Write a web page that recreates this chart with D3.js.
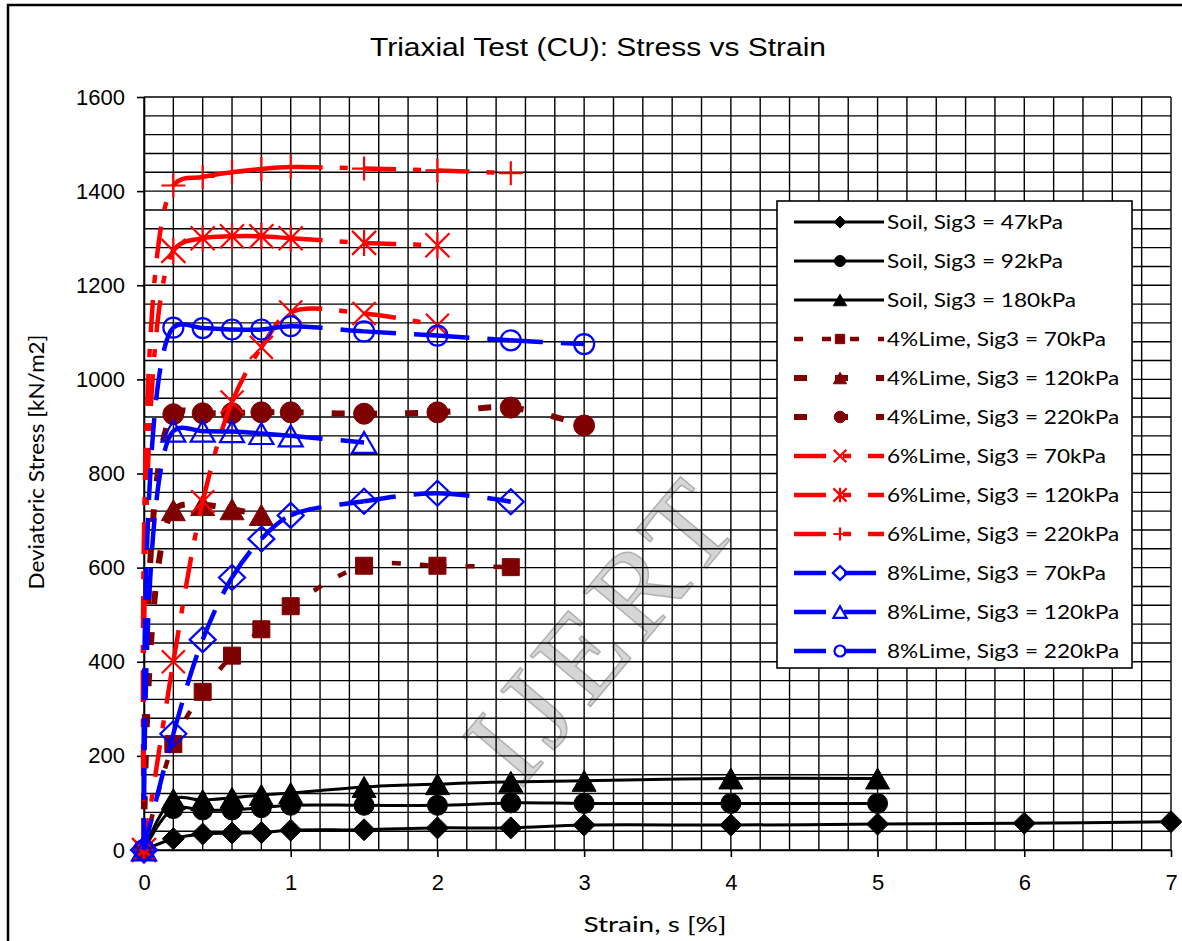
<!DOCTYPE html>
<html>
<head>
<meta charset="utf-8">
<script src="https://cdn.jsdelivr.net/npm/d3@7"></script>
<style>
  html, body { margin: 0; padding: 0; background: #fff; }
  svg { display: block; }
</style>
</head>
<body>
<div id="chart"></div>
<script>
// strain steps (%) shared by all the series, a series just stops early
const strain = [0, 0.2, 0.4, 0.6, 0.8, 1.0, 1.5, 2.0, 2.5, 3.0, 4.0, 5.0, 6.0, 7.0];

// deviatoric stress [kN/m2]
const soil47   = [0, 24, 34, 36, 37, 42, 43, 47, 47, 53, 53, 55, 57, 60];
const soil92   = [0, 88, 85, 85, 90, 95, 95, 95, 100, 99, 99, 99];
const soil180  = [0, 108, 106, 111, 117, 121, 134, 140, 145, 147, 152, 152];
const lime4_70  = [0, 225, 336, 413, 469, 518, 604, 604, 601];
const lime4_120 = [0, 722, 733, 724, 712];
const lime4_220 = [0, 926, 928, 928, 930, 930, 927, 930, 940, 902];
const lime6_70  = [0, 400, 740, 952, 1068, 1143, 1140, 1115];
const lime6_120 = [0, 1273, 1300, 1304, 1304, 1300, 1290, 1285];
const lime6_220 = [0, 1412, 1430, 1440, 1447, 1451, 1448, 1444, 1438];
const lime8_70  = [0, 247, 447, 579, 661, 711, 741, 758, 740];
const lime8_120 = [0, 890, 890, 889, 885, 880, 866];
const lime8_220 = [0, 1110, 1109, 1106, 1106, 1113, 1102, 1093, 1083, 1075];

const seriesNames = [
  "Soil, Sig3 = 47kPa", "Soil, Sig3 = 92kPa", "Soil, Sig3 = 180kPa",
  "4%Lime, Sig3 = 70kPa", "4%Lime, Sig3 = 120kPa", "4%Lime, Sig3 = 220kPa",
  "6%Lime, Sig3 = 70kPa", "6%Lime, Sig3 = 120kPa", "6%Lime, Sig3 = 220kPa",
  "8%Lime, Sig3 = 70kPa", "8%Lime, Sig3 = 120kPa", "8%Lime, Sig3 = 220kPa"
];
const xTicks = [0, 1, 2, 3, 4, 5, 6, 7];
const yTicks = [0, 200, 400, 600, 800, 1000, 1200, 1400, 1600];

// styles, same order as the names
const DARK = "#7f0000", RED = "#ff0000", BLUE = "#0000ff";
const styles = [
  { vals: soil47,    color: "#000", w: 3,   dash: null,          mk: "diamond",  mw: 22, mh: 22, fill: true },
  { vals: soil92,    color: "#000", w: 3,   dash: null,          mk: "circle",   mw: 20, mh: 20, fill: true },
  { vals: soil180,   color: "#000", w: 3,   dash: null,          mk: "triangle", mw: 24, mh: 21, fill: true },
  { vals: lime4_70,  color: DARK,   w: 4.5, dash: "9,19",        mk: "square",   mw: 17, mh: 17, fill: true },
  { vals: lime4_120, color: DARK,   w: 6,   dash: "13,28",       mk: "triangle", mw: 24, mh: 21, fill: true },
  { vals: lime4_220, color: DARK,   w: 6,   dash: "13,28",       mk: "circle",   mw: 21, mh: 21, fill: true },
  { vals: lime6_70,  color: RED,    w: 4.5, dash: "32,17,8,17",  mk: "x",        mw: 23, mh: 23, fill: false },
  { vals: lime6_120, color: RED,    w: 4.5, dash: "32,17,8,17",  mk: "star",     mw: 24, mh: 24, fill: false },
  { vals: lime6_220, color: RED,    w: 4.5, dash: "32,17,8,17",  mk: "plus",     mw: 24, mh: 24, fill: false },
  { vals: lime8_70,  color: BLUE,   w: 4.5, dash: "32,18",       mk: "diamond",  mw: 26, mh: 25, fill: false },
  { vals: lime8_120, color: BLUE,   w: 4.5, dash: "32,18",       mk: "triangle", mw: 24, mh: 21, fill: false },
  { vals: lime8_220, color: BLUE,   w: 4.5, dash: "32,18",       mk: "circle",   mw: 20, mh: 20, fill: false }
];

const W = 1182, H = 941;
const svg = d3.select("#chart").append("svg")
  .attr("width", W).attr("height", H);

svg.append("rect").attr("width", W).attr("height", H).attr("fill", "#fff");
// chart border
svg.append("rect").attr("x", 8).attr("y", 5).attr("width", 1400).attr("height", 1200)
  .attr("fill", "none").attr("stroke", "#000").attr("stroke-width", 2.5);

const x = d3.scaleLinear().domain([0, 7]).range([144, 1171]);
const y = d3.scaleLinear().domain([0, 1600]).range([850, 97]);

// watermark, under the grid
svg.append("text")
  .attr("transform", "translate(600,632) rotate(-50)")
  .attr("text-anchor", "middle").attr("dominant-baseline", "central")
  .attr("font-family", "Liberation Serif, serif").attr("font-size", 120)
  .attr("textLength", 345).attr("lengthAdjust", "spacing")
  .attr("fill", "#d6d6d6").attr("stroke", "#b0b0b0").attr("stroke-width", 1.5)
  .text("IJERT");

// grid: every 0.2 % and every 40 kN/m2
const grid = svg.append("g").attr("stroke", "#000").attr("stroke-width", 1.4);
grid.selectAll("line.v").data(d3.range(0, 35.5).map(i => i * 0.2)).join("line")
  .attr("class", "v")
  .attr("x1", d => x(d)).attr("x2", d => x(d))
  .attr("y1", y(0)).attr("y2", y(1600));
grid.selectAll("line.h").data(d3.range(0, 40.5).map(i => i * 40)).join("line")
  .attr("class", "h")
  .attr("x1", x(0)).attr("x2", x(7))
  .attr("y1", d => y(d)).attr("y2", d => y(d));

// axes
const yAxis = svg.append("g").attr("transform", `translate(${x(0)},0)`)
  .call(d3.axisLeft(y).tickValues(yTicks).tickSize(7).tickSizeOuter(0).tickPadding(12)
    .tickFormat(d3.format("d")));
const xAxis = svg.append("g").attr("transform", `translate(0,${y(0)})`)
  .call(d3.axisBottom(x).tickValues(xTicks).tickSize(7).tickSizeOuter(0).tickPadding(17)
    .tickFormat(d3.format("d")));
[yAxis, xAxis].forEach(a => {
  a.attr("font-family", "Liberation Sans, Arial, sans-serif").attr("font-size", 22);
  a.selectAll("path, line").attr("stroke", "#000").attr("stroke-width", 1.6);
  a.selectAll("text").attr("fill", "#000");
});

// marker shapes centred on 0,0
function markerPath(t, w, h) {
  const a = w / 2, b = h / 2;
  switch (t) {
    case "diamond": return `M0,${-b}L${a},0L0,${b}L${-a},0Z`;
    case "circle": return `M${a},0A${a},${a} 0 1,1 ${-a},0A${a},${a} 0 1,1 ${a},0Z`;
    case "triangle": return `M0,${-b}L${a},${b}L${-a},${b}Z`;
    case "square": return `M${-a},${-b}H${a}V${b}H${-a}Z`;
    case "x": return `M${-a},${-b}L${a},${b}M${-a},${b}L${a},${-b}`;
    case "star": return `M${-a},${-b}L${a},${b}M${-a},${b}L${a},${-b}M0,${-b * 1.1}L0,${b * 1.1}`;
    case "plus": return `M${-a},0H${a}M0,${-b}V${b}`;
  }
}

// excel restarts the dash pattern on every segment of a smoothed line,
// so record each bezier piece of the curve as its own path
function segments(vals) {
  const out = [];
  let p0;
  const ctx = {
    moveTo(px, py) { p0 = [px, py]; },
    lineTo(px, py) { out.push("M" + p0 + "L" + px + "," + py); p0 = [px, py]; },
    bezierCurveTo(a, b, c, d, px, py) {
      out.push("M" + p0 + "C" + [a, b, c, d, px, py].join(","));
      p0 = [px, py];
    },
    closePath() {}
  };
  d3.line().x((v, i) => x(strain[i])).y(v => y(v))
    .curve(d3.curveCatmullRom).context(ctx)(vals);
  return out;
}

const lineGen = d3.line().x((v, i) => x(strain[i])).y(v => y(v)).curve(d3.curveCatmullRom);

function styleMarker(sel, s) {
  sel.attr("fill", s.fill ? s.color : "none")
    .attr("stroke", s.color)
    .attr("stroke-width", s.fill ? 1 : 2.2);
}

const plot = svg.append("g");
styles.forEach(s => {
  const g = plot.append("g");
  if (s.dash) {
    g.selectAll("path.seg").data(segments(s.vals)).join("path")
      .attr("class", "seg").attr("d", d => d)
      .attr("fill", "none").attr("stroke", s.color).attr("stroke-width", s.w)
      .attr("stroke-dasharray", s.dash);
  } else {
    g.append("path").attr("d", lineGen(s.vals))
      .attr("fill", "none").attr("stroke", s.color).attr("stroke-width", s.w)
      .attr("stroke-linejoin", "round");
  }
  g.selectAll("path.mk").data(s.vals).join("path")
    .attr("class", "mk")
    .attr("transform", (v, i) => `translate(${x(strain[i])},${y(v)})`)
    .attr("d", markerPath(s.mk, s.mw, s.mh))
    .call(styleMarker, s);
});

// legend
const LX = 777, LY = 201, LW = 355, LH = 467, ROW0 = 222, ROWH = 39;
svg.append("rect").attr("x", LX).attr("y", LY).attr("width", LW).attr("height", LH)
  .attr("fill", "#fff").attr("stroke", "#000").attr("stroke-width", 1.6);
const leg = svg.append("g");
const legText = [];
styles.forEach((s, k) => {
  const cy = ROW0 + k * ROWH;
  const row = leg.append("g");
  row.append("path").attr("d", `M794,${cy}H884`)
    .attr("fill", "none").attr("stroke", s.color).attr("stroke-width", s.w)
    .attr("stroke-dasharray", s.dash);
  row.append("path").attr("transform", `translate(840,${cy})`)
    .attr("d", markerPath(s.mk, s.mw * 0.55, s.mh * 0.55))
    .call(styleMarker, s);
  legText.push(row.append("text").attr("x", 887).attr("y", cy).attr("dy", "0.36em")
    .attr("font-family", "Lato, sans-serif").attr("font-size", 20)
    .attr("fill", "#000").text(seriesNames[k]));
});
// stretch legend text like the picture (first entry is 176px wide)
const k0 = 176 / legText[0].node().getComputedTextLength();
legText.forEach(t => t.attr("textLength", t.node().getComputedTextLength() * k0)
  .attr("lengthAdjust", "spacingAndGlyphs"));

// titles
svg.append("text").attr("x", 598).attr("y", 56).attr("text-anchor", "middle")
  .attr("font-family", "Liberation Sans, Arial, sans-serif").attr("font-size", 25)
  .attr("textLength", 456).attr("lengthAdjust", "spacingAndGlyphs")
  .text("Triaxial Test (CU): Stress vs Strain");

svg.append("text").attr("x", 655).attr("y", 932).attr("text-anchor", "middle")
  .attr("font-family", "Lato, sans-serif").attr("font-size", 21)
  .attr("textLength", 143).attr("lengthAdjust", "spacingAndGlyphs")
  .text("Strain, s [%]");

svg.append("text").attr("transform", "translate(44,462) rotate(-90)")
  .attr("text-anchor", "middle")
  .attr("font-family", "Lato, sans-serif").attr("font-size", 21)
  .attr("textLength", 255).attr("lengthAdjust", "spacingAndGlyphs")
  .text("Deviatoric Stress [kN/m2]");
</script>
</body>
</html>
